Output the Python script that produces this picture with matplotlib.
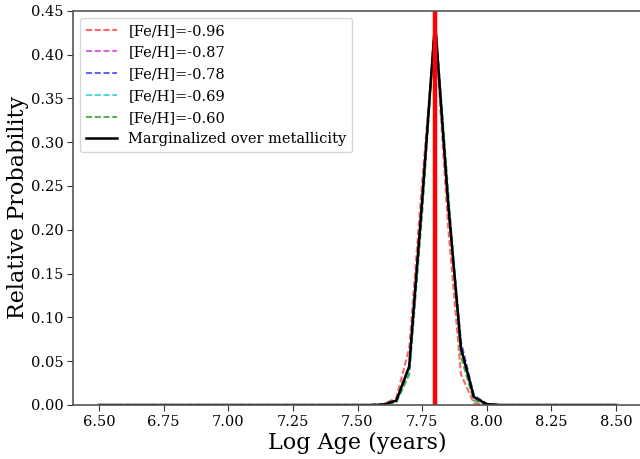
import matplotlib
matplotlib.use("Agg")
import matplotlib.pyplot as plt

ages = [6.50, 6.55, 6.60, 6.65, 6.70, 6.75, 6.80, 6.85, 6.90, 6.95,
        7.00, 7.05, 7.10, 7.15, 7.20, 7.25, 7.30, 7.35, 7.40, 7.45,
        7.50, 7.55, 7.60, 7.65, 7.70, 7.75, 7.80, 7.85, 7.90, 7.95,
        8.00, 8.05, 8.10, 8.15, 8.20, 8.25, 8.30, 8.35, 8.40, 8.45, 8.50]
zeros_lo = [0.0] * 22
zeros_hi = [0.0] * 10
p_096 = zeros_lo + [0.001, 0.008, 0.065, 0.255, 0.430, 0.205, 0.035, 0.002, 0.000] + zeros_hi
p_087 = zeros_lo + [0.0005, 0.006, 0.045, 0.235, 0.437, 0.228, 0.068, 0.010, 0.001] + zeros_hi
p_078 = zeros_lo + [0.0005, 0.005, 0.043, 0.232, 0.437, 0.232, 0.072, 0.011, 0.001] + zeros_hi
p_069 = zeros_lo + [0.0003, 0.004, 0.037, 0.222, 0.440, 0.240, 0.060, 0.007, 0.0005] + zeros_hi
p_060 = zeros_lo + [0.0003, 0.003, 0.035, 0.220, 0.440, 0.245, 0.055, 0.005, 0.0003] + zeros_hi
p_marg = zeros_lo + [0.0005, 0.005, 0.044, 0.233, 0.437, 0.232, 0.065, 0.009, 0.001] + zeros_hi
best_age = 7.80

labels = ["[Fe/H]=-0.96", "[Fe/H]=-0.87", "[Fe/H]=-0.78", "[Fe/H]=-0.69", "[Fe/H]=-0.60"]
series = [p_096, p_087, p_078, p_069, p_060]
colors = ["#ff3333", "#cc33dd", "#3333ee", "#22cccc", "#229922"]

plt.rcParams["font.family"] = ["DejaVu Serif"]

fig = plt.figure(figsize=(6.4, 4.59), dpi=100)
ax = fig.add_axes([73/640, 54/459, 569/640, 394.3/459])

for s, c, l in zip(series, colors, labels):
    ax.plot(ages, s, ls=(0, (2.9, 1.3)), color=c, lw=1.5, alpha=0.75, label=l)
ax.plot(ages, p_marg, color="black", lw=1.8, label="Marginalized over metallicity")
ax.axvline(best_age, color="red", lw=3.2)

ax.set_xlim(6.4, 8.6)
ax.set_ylim(0, 0.45)
ax.set_xticks([6.50, 6.75, 7.00, 7.25, 7.50, 7.75, 8.00, 8.25, 8.50])
ax.set_yticks([0.00, 0.05, 0.10, 0.15, 0.20, 0.25, 0.30, 0.35, 0.40, 0.45])
ax.tick_params(labelsize=10.5, color="#333333", length=4.5, pad=2.5)
ax.set_xlabel("Log Age (years)", fontsize=16, labelpad=2)
ax.set_ylabel("Relative Probability", fontsize=16, labelpad=1)
for sp in ax.spines.values():
    sp.set_color("#555555")
    sp.set_linewidth(1.2)

ax.legend(loc="upper left", fontsize=10.5, handlelength=2.1, borderaxespad=0.5,
          labelspacing=0.53)

fig.savefig("out.png", dpi=100)
